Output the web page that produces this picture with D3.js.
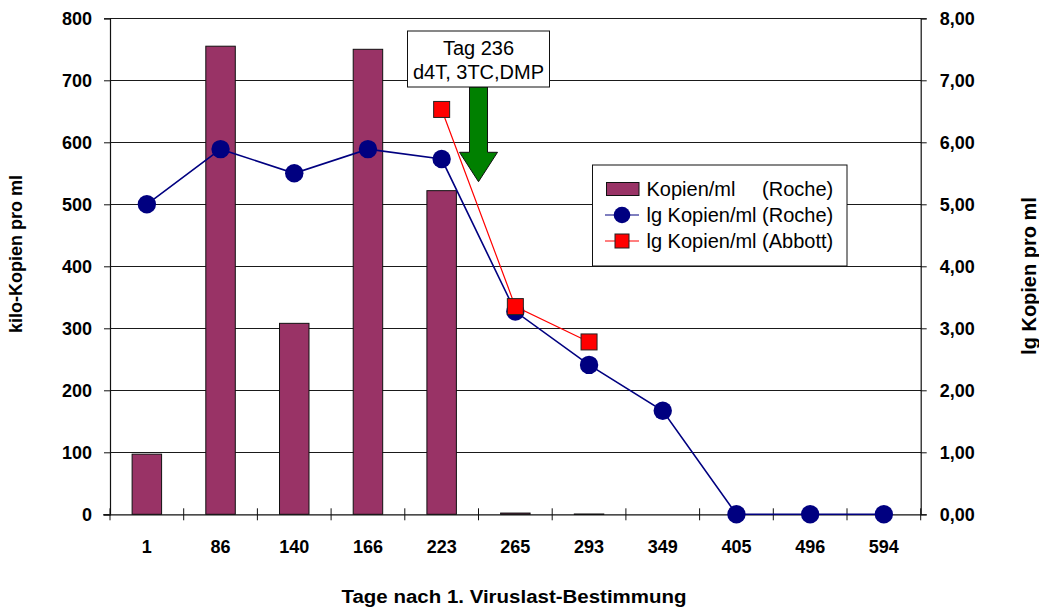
<!DOCTYPE html>
<html>
<head>
<meta charset="utf-8">
<script src="https://cdn.jsdelivr.net/npm/d3@7"></script>
<style>
  html, body { margin: 0; padding: 0; background: #fff; }
  svg { display: block; }
  text { font-family: "Liberation Sans", Arial, Helvetica, sans-serif; }
</style>
</head>
<body>
<svg id="chart" width="1039" height="608"></svg>
<script>
// ---- data ----
const categories = ["1", "86", "140", "166", "223", "265", "293", "349", "405", "496", "594"];
const kopienRoche = [97, 755, 308, 750, 522, 2, 0.5, 0, 0, 0, 0];           // kilo-Kopien pro ml
const lgRoche     = [5.0, 5.89, 5.5, 5.89, 5.73, 3.27, 2.41, 1.67, 0, 0, 0];
const lgAbbott    = [null, null, null, null, 6.53, 3.35, 2.78, null, null, null, null];
const leftTicks   = [0, 100, 200, 300, 400, 500, 600, 700, 800];
const rightTicks  = [0, 1, 2, 3, 4, 5, 6, 7, 8];
const legendLabels = [["Kopien/ml", "(Roche)"], ["lg Kopien/ml (Roche)", ""], ["lg Kopien/ml (Abbott)", ""]];
const annotationLines = ["Tag 236", "d4T, 3TC,DMP"];
const annotationBetween = ["223", "265"];

// ---- layout ----
const svg = d3.select("#chart");
const L = 110, R = 920.7, T = 18.3, B = 514.3;
const x = d3.scaleBand().domain(categories).range([L, R]).padding(0);
const yL = d3.scaleLinear().domain([0, 800]).range([B, T]);
const yR = d3.scaleLinear().domain([0, 8]).range([B, T]);
const cx = c => x(c) + x.bandwidth() / 2;

const navy = "#000080", plum = "#993366", red = "#ff0000";

// gridlines
svg.append("g").selectAll("line").data(leftTicks.filter(d => d > 0)).join("line")
  .attr("x1", L).attr("x2", R).attr("y1", d => yL(d)).attr("y2", d => yL(d))
  .attr("stroke", "#1a1a1a").attr("stroke-width", 1).attr("shape-rendering", "crispEdges");

// bars
const bw = x.bandwidth() * 0.4;
svg.append("g").selectAll("rect").data(categories.map((c, i) => ({c, v: kopienRoche[i]})).filter(d => d.v > 0)).join("rect")
  .attr("x", d => cx(d.c) - bw / 2).attr("width", bw)
  .attr("y", d => yL(d.v)).attr("height", d => Math.max(0.5, B - yL(d.v)))
  .attr("fill", plum).attr("stroke", "#111").attr("stroke-width", 1);

// axes
const gLeft = svg.append("g").attr("transform", `translate(${L},0)`)
  .call(d3.axisLeft(yL).tickValues(leftTicks).tickSize(6).tickPadding(12).tickFormat(d3.format("d")));
const gRight = svg.append("g").attr("transform", `translate(${R},0)`)
  .call(d3.axisRight(yR).tickValues(rightTicks).tickSize(6).tickPadding(13).tickFormat(d => d3.format(".2f")(d).replace(".", ",")));
const gBottom = svg.append("g").attr("transform", `translate(0,${B})`)
  .call(d3.axisBottom(x).tickSize(0).tickPadding(32));
[gLeft, gRight, gBottom].forEach(g => {
  g.select(".domain").attr("stroke", "#111").attr("stroke-width", 1.2);
  g.selectAll(".tick line").attr("stroke", "#111");
  g.selectAll(".tick text").attr("font-size", 18).attr("font-weight", "bold")
    .attr("fill", "#000").style("font-family", '"Liberation Sans", Arial, sans-serif');
});
gBottom.select(".domain").attr("d", `M${L - 7},0.5H${R}`);
// category boundary ticks (crossing the axis)
svg.append("g").selectAll("line").data(d3.range(categories.length + 1)).join("line")
  .attr("x1", i => L + i * x.bandwidth()).attr("x2", i => L + i * x.bandwidth())
  .attr("y1", B - 6).attr("y2", B + 6).attr("stroke", "#111").attr("stroke-width", 1);
gBottom.selectAll(".tick text").attr("dy", "0.35em").attr("y", 32);

// Roche lg line
const lineGen = d3.line().defined(d => d.v != null).x(d => cx(d.c)).y(d => yR(d.v));
const rocheData = categories.map((c, i) => ({c, v: lgRoche[i]}));
svg.append("path").datum(rocheData).attr("d", lineGen)
  .attr("fill", "none").attr("stroke", navy).attr("stroke-width", 1.6);
svg.append("g").selectAll("circle").data(rocheData.filter(d => d.v != null)).join("circle")
  .attr("cx", d => cx(d.c)).attr("cy", d => yR(d.v)).attr("r", 9.2).attr("fill", navy);

// Abbott lg line
const abbottData = categories.map((c, i) => ({c, v: lgAbbott[i]}));
svg.append("path").datum(abbottData.filter(d => d.v != null)).attr("d", lineGen)
  .attr("fill", "none").attr("stroke", red).attr("stroke-width", 1.2);
const sq = 16;
svg.append("g").selectAll("rect").data(abbottData.filter(d => d.v != null)).join("rect")
  .attr("x", d => cx(d.c) - sq / 2).attr("y", d => yR(d.v) - sq / 2)
  .attr("width", sq).attr("height", sq)
  .attr("fill", red).attr("stroke", "#222").attr("stroke-width", 1);

// axis titles
svg.append("text").attr("transform", `translate(22,254) rotate(-90)`)
  .attr("text-anchor", "middle").attr("font-size", 18).attr("font-weight", "bold")
  .text("kilo-Kopien pro ml");
svg.append("text").attr("transform", `translate(1036,276) rotate(-90)`)
  .attr("text-anchor", "middle").attr("font-size", 20).attr("font-weight", "bold")
  .text("lg Kopien pro ml");
svg.append("text").attr("x", 514).attr("y", 603)
  .attr("text-anchor", "middle").attr("font-size", 18).attr("font-weight", "bold")
  .attr("textLength", 345).attr("lengthAdjust", "spacingAndGlyphs")
  .text("Tage nach 1. Viruslast-Bestimmung");

// annotation: arrow + box (Tag 236, between 223 and 265)
const ax = (cx(annotationBetween[0]) + cx(annotationBetween[1])) / 2;
const arrowPts = [[ax - 9, 87], [ax + 9, 87], [ax + 9, 152.3], [ax + 19, 152.3], [ax, 181.7], [ax - 19, 152.3], [ax - 9, 152.3]];
svg.append("polygon").attr("points", arrowPts.map(p => p.join(",")).join(" "))
  .attr("fill", "#008000").attr("stroke", "#111").attr("stroke-width", 1);
svg.append("rect").attr("x", ax - 71).attr("y", 31).attr("width", 142).attr("height", 56)
  .attr("fill", "#fff").attr("stroke", "#111").attr("stroke-width", 1);
svg.append("g").selectAll("text").data(annotationLines).join("text")
  .attr("x", ax).attr("y", (d, i) => 54.5 + i * 24)
  .attr("text-anchor", "middle").attr("font-size", 20).text(d => d);

// legend
const lg = svg.append("g");
lg.append("rect").attr("x", 592.5).attr("y", 165).attr("width", 254.5).attr("height", 101)
  .attr("fill", "#fff").attr("stroke", "#111").attr("stroke-width", 1);
const rowY = [189, 215, 241];
lg.append("rect").attr("x", 606.5).attr("y", rowY[0] - 6.5).attr("width", 32.5).attr("height", 13)
  .attr("fill", plum).attr("stroke", "#111");
lg.append("line").attr("x1", 605).attr("x2", 639).attr("y1", rowY[1]).attr("y2", rowY[1]).attr("stroke", navy).attr("stroke-width", 1.2);
lg.append("circle").attr("cx", 622).attr("cy", rowY[1]).attr("r", 8.3).attr("fill", navy);
lg.append("line").attr("x1", 605).attr("x2", 639).attr("y1", rowY[2]).attr("y2", rowY[2]).attr("stroke", red).attr("stroke-width", 1.2);
lg.append("rect").attr("x", 615).attr("y", rowY[2] - 7).attr("width", 14).attr("height", 14)
  .attr("fill", red).attr("stroke", "#222");
const row2 = lg.append("text").attr("x", 646.5).attr("y", rowY[1] + 7).attr("font-size", 20).text(legendLabels[1][0]);
lg.append("text").attr("x", 646.5).attr("y", rowY[2] + 7).attr("font-size", 20).text(legendLabels[2][0]);
lg.append("text").attr("x", 646.5).attr("y", rowY[0] + 7).attr("font-size", 20).text(legendLabels[0][0]);
const endX = 646.5 + row2.node().getComputedTextLength();
lg.append("text").attr("x", endX).attr("y", rowY[0] + 7).attr("font-size", 20).attr("text-anchor", "end").text(legendLabels[0][1]);
</script>
</body>
</html>
